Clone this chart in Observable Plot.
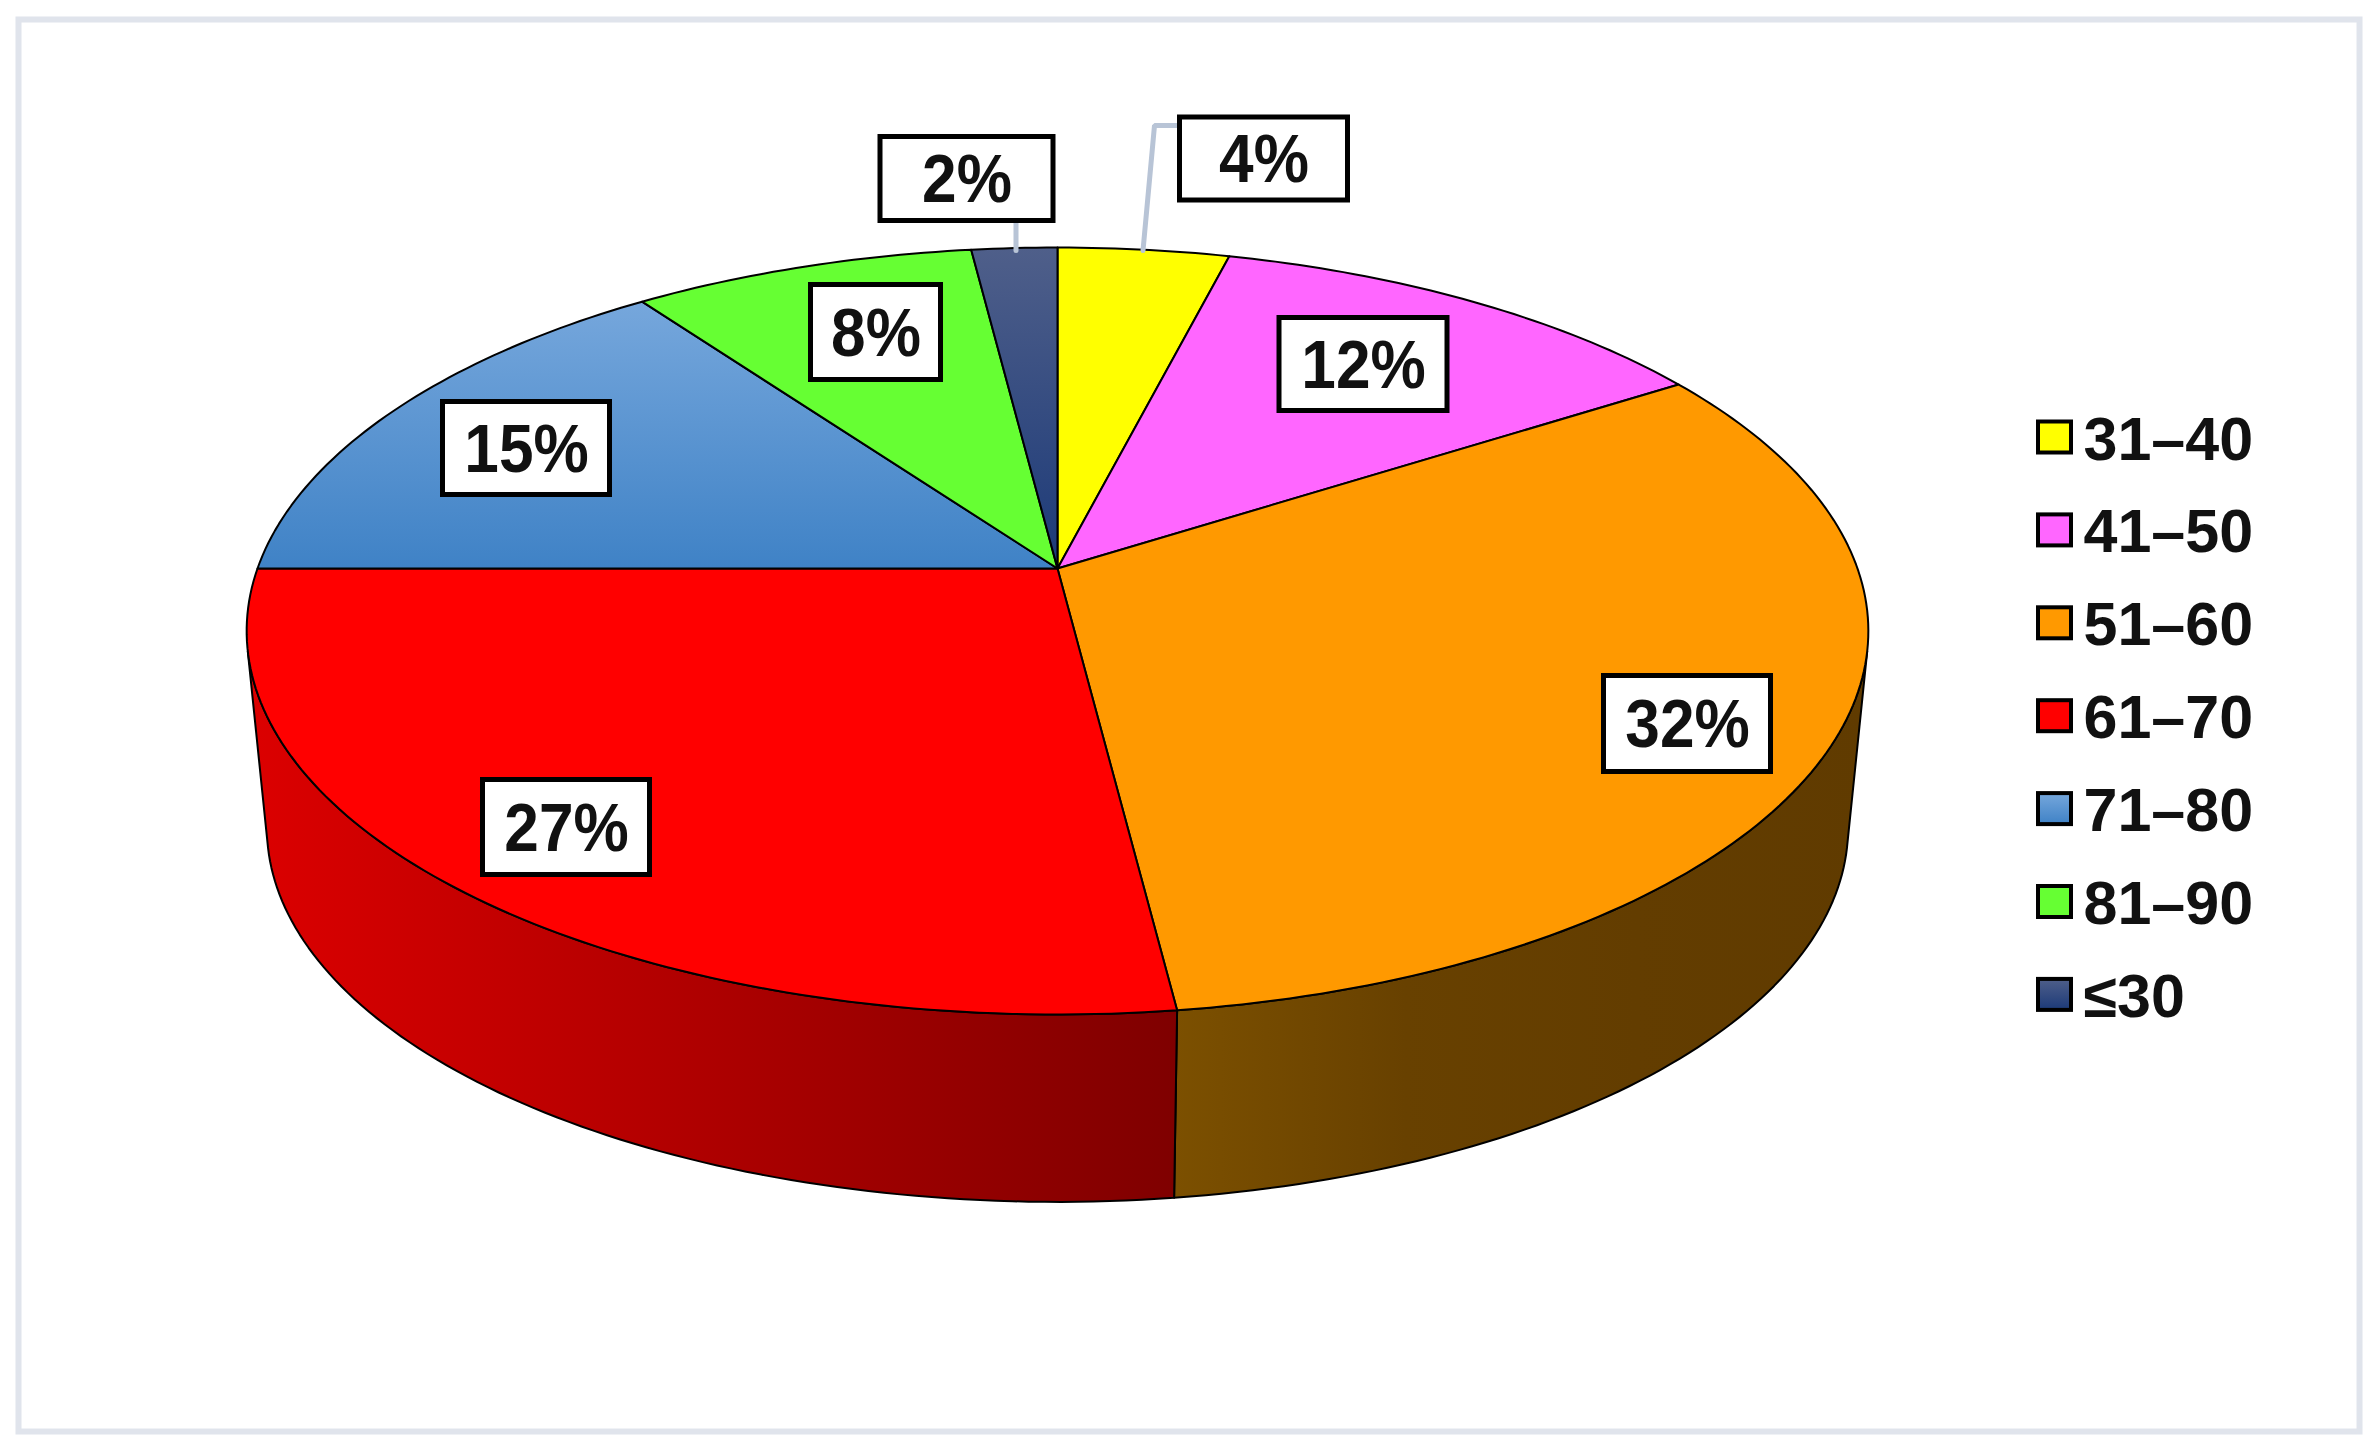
<!DOCTYPE html>
<html>
<head>
<meta charset="utf-8">
<style>
html,body{margin:0;padding:0;background:#fff;}
svg{display:block;}
</style>
<script src="https://cdn.jsdelivr.net/npm/d3@7"></script>
<script src="https://cdn.jsdelivr.net/npm/@observablehq/plot@0.6"></script>
</head>
<body>
<script>
// ---- Data ----
const categories = ["31–40", "41–50", "51–60", "61–70", "71–80", "81–90", "≤30"];
const shares = [4, 12, 32, 27, 15, 8, 2];

// ---- Styles ----
const topFills = ["#ffff00", "#ff66ff", "#ff9900", "#ff0000", "url(#blueTop)", "#66ff33", "url(#navyTop)"];
const ink = "#111";
const fontStack = "'Liberation Sans', Arial, sans-serif";

// ---- Layout ----
const W = 2380, H = 1452;
const pie = {cx: 1057, hubY: 568, A: 800, b: -280.7, k: 0.163, ellipseCy: 630, depth: 197, shrink: 0.975};
const labelCenters = [[1263.5, 158.5], [1363, 364], [1687, 723.5], [566, 827], [526, 448], [875.5, 332], [966.5, 178.5]];
const labelSizes = [[173, 88], [173, 98], [172, 101], [172, 100], [172, 98], [135, 100], [178, 89]];
const leaderLines = [
  {id: "a", pts: [[1177, 125], [1154, 125], [1142.5, 250]]},
  {id: "b", pts: [[1015.5, 223], [1015.5, 250]]}
];
const legendBox = {x: 2036, w: 37, h: 35, y0: 437, step: 92.9, textX: 2083};

// Perspective view of the round pie top: angle is clockwise from 12 o'clock.
function topPt(deg) {
  const t = deg * Math.PI / 180, u = Math.sin(t), v = Math.cos(t), d = 1 + pie.k * v;
  return [pie.cx + pie.A * u / d, (pie.hubY + pie.b * v) / d];
}
function botPt(deg) {
  const [x, y] = topPt(deg);
  return [pie.cx + (x - pie.cx) * pie.shrink, pie.ellipseCy + pie.depth + (y - pie.ellipseCy) * pie.shrink];
}
function arcPts(f, a0, a1) {
  const n = Math.max(2, Math.ceil(Math.abs(a1 - a0))), out = [];
  for (let i = 0; i <= n; i++) out.push(f(a0 + (a1 - a0) * i / n));
  return out;
}

const total = d3.sum(shares);
let acc = 0;
const slices = shares.map((s, i) => {
  const a0 = acc / total * 360; acc += s; const a1 = acc / total * 360;
  return {i, a0, a1};
});

const wallEdge = Math.acos(-pie.k) * 180 / Math.PI + 3;
function wallPts(a0, a1) {
  const s = Math.max(a0, wallEdge), e = Math.min(a1, 360 - wallEdge);
  if (e <= s) return null;
  const p = [...arcPts(topPt, s, e), ...arcPts(botPt, e, s)];
  p.push(p[0]);
  return p;
}
const wallFill = {2: "url(#orangeWall)", 3: "url(#redWall)"};

function gradients() {
  const defs = d3.create("svg:defs");
  const add = (id, horizontal, stops) => {
    const g = defs.append("linearGradient").attr("id", id)
      .attr("x1", 0).attr("y1", 0).attr("x2", horizontal ? 1 : 0).attr("y2", horizontal ? 0 : 1);
    stops.forEach((c, i) => g.append("stop").attr("offset", i / (stops.length - 1)).attr("stop-color", c));
  };
  add("blueTop", false, ["#76a7dc", "#3f82c6"]);
  add("navyTop", false, ["#4f5f8a", "#1c3a78"]);
  add("orangeWall", true, ["#7c5000", "#684100", "#633d00", "#603b00"]);
  add("redWall", true, ["#dc0000", "#7f0000"]);
  return defs.node();
}

const poly = (pts, o) => Plot.line(pts, {x: d => d[0], y: d => d[1], curve: "linear", strokeLinejoin: "round", ...o});

const marks = [
  gradients,
  Plot.frame({stroke: "#e0e4ec", strokeWidth: 6, insetLeft: 18, insetTop: 19, insetRight: 21, insetBottom: 21}),
];

// Side wall, then the top face
for (const s of slices) {
  const p = wallPts(s.a0, s.a1);
  if (p) marks.push(poly(p, {fill: wallFill[s.i], stroke: "#000", strokeWidth: 2}));
}
for (const s of slices) {
  const p = [[pie.cx, pie.hubY], ...arcPts(topPt, s.a0, s.a1), [pie.cx, pie.hubY]];
  marks.push(poly(p, {fill: topFills[s.i], stroke: "#000", strokeWidth: 2}));
}

// Leader lines
for (const l of leaderLines) marks.push(poly(l.pts, {stroke: "#b8c4d6", strokeWidth: 5, strokeLinejoin: "miter"}));

// Percentage labels
const labels = shares.map((s, i) => ({text: s + "%", cx: labelCenters[i][0], cy: labelCenters[i][1], w: labelSizes[i][0], h: labelSizes[i][1]}));
marks.push(
  Plot.rect(labels, {x1: d => d.cx - d.w / 2 + 2.5, x2: d => d.cx + d.w / 2 - 2.5, y1: d => d.cy - d.h / 2 + 2.5, y2: d => d.cy + d.h / 2 - 2.5,
    fill: "#fff", stroke: "#000", strokeWidth: 5}),
  Plot.text(labels, {x: "cx", y: d => d.cy + 1, text: "text", fontFamily: fontStack, fontWeight: "bold", fontSize: 69, fill: ink, className: "pct"})
);

// Legend
const legendRows = categories.map((c, i) => ({c, fill: topFills[i], y: legendBox.y0 + i * legendBox.step}));
for (const r of legendRows) {
  marks.push(Plot.rect([r], {x1: legendBox.x + 2, x2: legendBox.x + legendBox.w - 2, y1: d => d.y - legendBox.h / 2 + 2, y2: d => d.y + legendBox.h / 2 - 2,
    fill: r.fill, stroke: "#000", strokeWidth: 4}));
}
marks.push(Plot.text(legendRows, {x: legendBox.textX, y: d => d.y + 2.5, text: "c", textAnchor: "start", fontFamily: fontStack, fontWeight: "bold", fontSize: 61, fill: ink}));

const chart = Plot.plot({
  width: W, height: H,
  margin: 0,
  x: {type: "linear", domain: [0, W], range: [0, W], axis: null},
  y: {type: "linear", domain: [0, H], range: [0, H], axis: null},
  style: {background: "#fff"},
  marks
});
document.body.append(chart);

// The reference's percentage labels are slightly condensed
chart.querySelectorAll(".pct text").forEach(t => {
  t.setAttribute("textLength", t.getComputedTextLength() * 0.9);
  t.setAttribute("lengthAdjust", "spacingAndGlyphs");
});
</script>
</body>
</html>
